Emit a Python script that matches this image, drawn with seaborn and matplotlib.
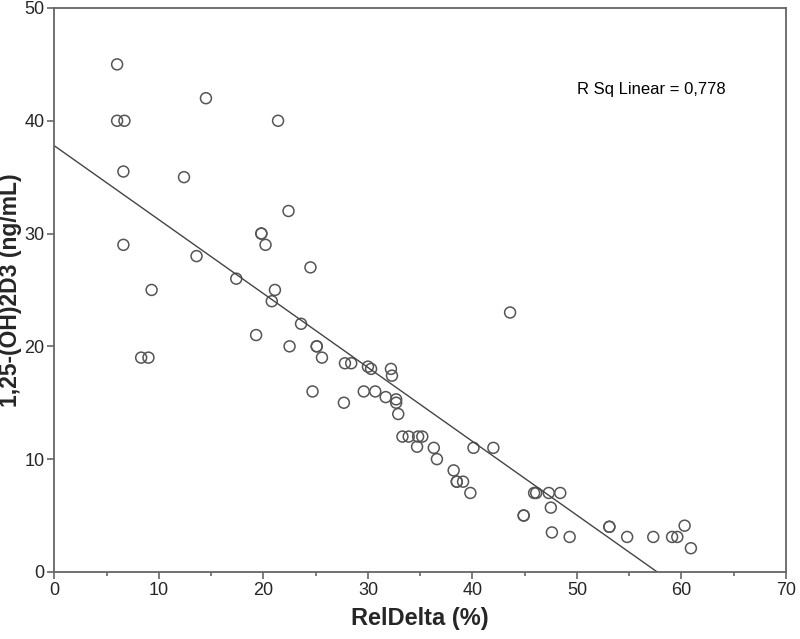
import numpy as np
import pandas as pd
import seaborn as sns
import matplotlib.pyplot as plt
from matplotlib.ticker import MultipleLocator

# values
rel_delta = [6.0, 6.0, 6.7, 14.5, 21.4, 6.6, 12.4, 22.4, 19.8, 19.8,
             20.2, 6.6, 13.6, 17.4, 9.3, 21.1, 20.8, 24.5, 23.6, 19.3,
             22.5, 25.1, 25.1, 25.6, 27.8, 28.4, 30.0, 30.3, 32.2, 32.3,
             24.7, 27.7, 29.6, 30.7, 31.7, 32.7, 32.7, 32.9, 33.3, 33.9,
             34.8, 35.2, 34.7, 36.3, 36.6, 40.1, 42.0, 38.2, 38.5, 38.5,
             39.1, 39.8, 43.6, 45.9, 46.1, 47.3, 48.4, 47.5, 44.9, 44.9,
             53.1, 53.1, 47.6, 49.3, 54.8, 57.3, 59.1, 59.6, 60.3, 60.9,
             8.3, 9.0]
vitd = [45, 40, 40, 42, 40, 35.5, 35, 32, 30, 30,
        29, 29, 28, 26, 25, 25, 24, 27, 22, 21,
        20, 20, 20, 19, 18.5, 18.5, 18.2, 18.0, 18.0, 17.4,
        16, 15, 16, 16, 15.5, 15.3, 15.0, 14, 12, 12,
        12, 12, 11.1, 11, 10, 11, 11, 9, 8, 8,
        8, 7, 23, 7, 7, 7, 7, 5.7, 5, 5,
        4, 4, 3.5, 3.1, 3.1, 3.1, 3.1, 3.1, 4.1, 2.1,
        19, 19]

df = pd.DataFrame({'RelDelta': rel_delta, 'D3': vitd})

sns.set_style('ticks')
plt.rcParams['font.family'] = ['Liberation Sans', 'DejaVu Sans']

fig = plt.figure(figsize=(8, 6.39), dpi=100)
ax = fig.add_axes([0.068, 0.105, 0.9145, 0.8825])
ax.set_xlim(0, 70)
ax.set_ylim(0, 50)

sns.regplot(data=df, x='RelDelta', y='D3', ax=ax, ci=None, truncate=False,
            marker='o',
            scatter_kws={'s': 62, 'facecolors': 'none', 'edgecolors': '#555555',
                         'linewidths': 1.1, 'alpha': 1},
            line_kws={'color': '#444444', 'linewidth': 1.0})

ax.set_xlim(0, 70)
ax.set_ylim(0, 50)
ax.xaxis.set_major_locator(MultipleLocator(10))
ax.xaxis.set_minor_locator(MultipleLocator(5))
ax.yaxis.set_major_locator(MultipleLocator(10))

for s in ax.spines.values():
    s.set_visible(True)
    s.set_color('#666666')
    s.set_linewidth(1.3)

ax.tick_params(axis='both', which='major', length=5, width=1.2, color='#666666',
               labelsize=13, pad=2)
ax.tick_params(axis='x', which='minor', length=3, width=1.2, color='#666666')

ax.set_xlabel('RelDelta (%)', fontsize=17, fontweight='bold', labelpad=6)
ax.set_ylabel('1,25-(OH)2D3 (ng/mL)', fontsize=16.5, fontweight='bold')
ax.yaxis.set_label_coords(-0.044, 0.5)

ax.text(0.715, 0.855, 'R Sq Linear = 0,778', transform=ax.transAxes,
        fontsize=12, color='black', va='center', ha='left')

plt.savefig('out.png', dpi=100)
